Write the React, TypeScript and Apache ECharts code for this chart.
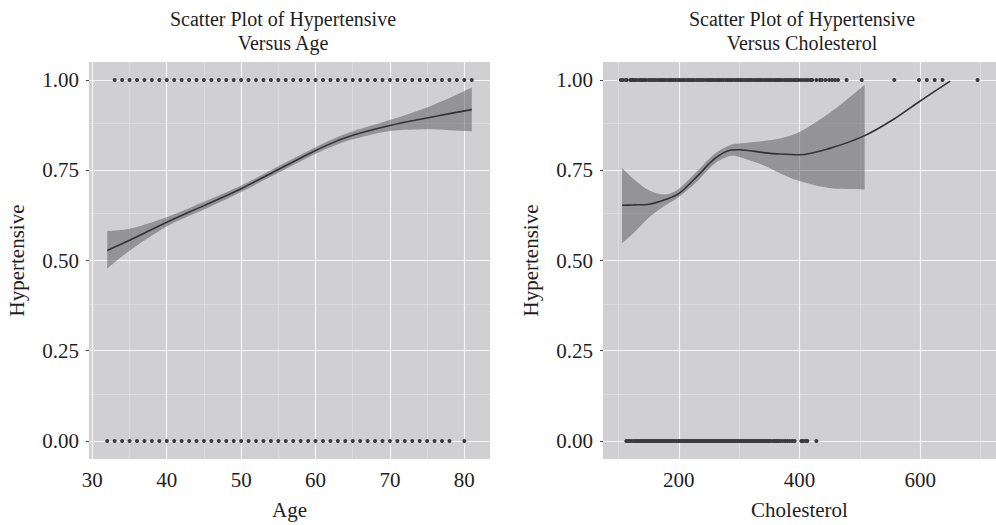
import { useEffect, useRef } from 'react';
import * as echarts from 'echarts';

// ---------- axis ticks ----------
const ageTicks = [30, 40, 50, 60, 70, 80];
const ageMinor = [35, 45, 55, 65, 75];
const cholTicks = [200, 400, 600];
const cholMinor = [100, 300, 500, 700];
const probTicks = [0, 0.25, 0.5, 0.75, 1];
const probMinor = [0.125, 0.375, 0.625, 0.875];

// ---------- left panel: Hypertensive vs Age ----------
const ageHyper = [33, 34, 35, 36, 37, 38, 39, 40, 41, 42, 43, 44, 45, 46, 47, 48, 49, 50, 51, 52, 53, 54, 55, 56, 57, 58, 59, 60, 61, 62, 63, 64, 65, 66, 67, 68, 69, 70, 71, 72, 73, 74, 75, 76, 77, 78, 79, 80, 81];
const ageNormo = [32, 33, 34, 35, 36, 37, 38, 39, 40, 41, 42, 43, 44, 45, 46, 47, 48, 49, 50, 51, 52, 53, 54, 55, 56, 57, 58, 59, 60, 61, 62, 63, 64, 65, 66, 67, 68, 69, 70, 71, 72, 73, 74, 75, 76, 77, 78, 80];
const ageFitX = [32, 35, 40, 45, 50, 55, 58, 60, 62.5, 65, 70, 75, 78, 81];
const ageFit = [0.528, 0.556, 0.606, 0.652, 0.699, 0.752, 0.784, 0.805, 0.828, 0.847, 0.874, 0.895, 0.907, 0.918];
const ageLower = [0.478, 0.527, 0.594, 0.641, 0.690, 0.743, 0.775, 0.796, 0.818, 0.836, 0.859, 0.864, 0.861, 0.858];
const ageUpper = [0.581, 0.588, 0.620, 0.663, 0.708, 0.761, 0.793, 0.814, 0.838, 0.858, 0.889, 0.924, 0.950, 0.979];

// ---------- right panel: Hypertensive vs Cholesterol ----------
const cholHyper = [104, 107, 112, 114, 120, 122,
  124, 127, 130, 134, 137, 140, 143, 146, 150, 153, 156, 159, 162, 166, 169, 172, 175, 178, 182, 185, 188, 191, 194, 198,
  201, 204, 207, 210, 214, 217, 220, 223, 226, 230, 233, 236, 239, 242, 246, 249, 252, 255, 258, 262, 265, 268, 271, 274,
  278, 281, 284, 287, 290, 294, 297, 300, 303, 306, 310, 313, 316, 319, 322, 326, 329, 332, 335, 338, 342, 345, 348, 351,
  354, 358, 361, 364, 367, 370, 374, 377, 380, 383, 386, 390, 393, 396, 398,
  402, 406, 410, 414, 418, 421, 428, 434, 437, 443, 449, 454, 459, 464, 478, 503, 557, 598, 611, 624, 637, 695];
const cholNormo = [113, 116, 119, 123, 127, 130,
  133, 136, 139, 142, 145, 148, 151, 154, 157, 160, 163, 166, 169, 172, 175, 178, 181, 184, 187, 190, 193, 196, 199,
  202, 205, 208, 211, 214, 217, 220, 223, 226, 229, 232, 235, 238, 241, 244, 247, 250, 253, 256, 259, 262, 265, 268,
  271, 274, 277, 280, 283, 286, 289, 292, 295, 298, 301, 304, 307, 310, 313, 316, 319, 322, 325, 328, 331, 334, 337,
  340, 343, 346, 349, 352, 356, 359, 362, 365, 368, 372, 376, 380, 384, 388, 392, 403, 406, 410, 413, 428];
const cholFitX = [106, 124, 151, 178, 200, 232, 259.5, 286.5, 300, 340.5, 367.6, 400, 448.6, 508, 556.7, 600, 649.7];
const cholFit = [0.653, 0.654, 0.656, 0.669, 0.685, 0.736, 0.782, 0.806, 0.807, 0.799, 0.795, 0.793, 0.810, 0.846, 0.892, 0.942, 0.997];
const cholBandX = [106, 124, 151, 178, 200, 232, 259.5, 286.5, 300, 340.5, 367.6, 400, 448.6, 508];
const cholUpper = [0.757, 0.727, 0.694, 0.683, 0.699, 0.750, 0.796, 0.821, 0.824, 0.831, 0.838, 0.856, 0.907, 0.986];
const cholLower = [0.548, 0.574, 0.620, 0.653, 0.676, 0.722, 0.769, 0.790, 0.787, 0.764, 0.742, 0.720, 0.701, 0.697];

const FONT = 'Liberation Serif';
const TXT = '#1e1e1e';
const PANEL = '#d0d0d2';
const POINT = '#3b3b3b';
const FS = 21;

const majorLine = { color: '#f6f6f7', width: 1.2, type: 'solid' as const };
const minorLine = { color: '#e2e2e4', width: 0.6, type: 'solid' as const };

function gridSeries(idx: number, xMajor: number[], xMinor: number[]) {
  const data: any[] = [];
  xMinor.forEach((v) => data.push({ xAxis: v, lineStyle: minorLine }));
  probMinor.forEach((v) => data.push({ yAxis: v, lineStyle: minorLine }));
  xMajor.forEach((v) => data.push({ xAxis: v, lineStyle: majorLine }));
  probTicks.forEach((v) => data.push({ yAxis: v, lineStyle: majorLine }));
  return {
    type: 'line',
    xAxisIndex: idx,
    yAxisIndex: idx,
    data: [],
    z: 1,
    silent: true,
    markLine: {
      silent: true,
      z: 1,
      symbol: 'none',
      label: { show: false },
      emphasis: { disabled: true },
      animation: false,
      data,
    },
  };
}

// confidence band drawn as one polygon through the axis scales
function bandSeries(idx: number, xs: number[], lo: number[], hi: number[]) {
  return {
    type: 'custom',
    xAxisIndex: idx,
    yAxisIndex: idx,
    z: 2,
    silent: true,
    data: xs.map((x, i) => [x, lo[i], hi[i]]),
    encode: { x: 0, y: [1, 2] },
    renderItem: (params: any, api: any) => {
      if (params.dataIndex !== 0) return null;
      const top = xs.map((x, i) => api.coord([x, hi[i]]));
      const bottom = xs.map((x, i) => api.coord([x, lo[i]])).reverse();
      const n = top.length;
      // duplicate the corner points so the vertical ends stay straight
      const pts = [top[0], ...top, top[n - 1], bottom[0], ...bottom, bottom[n - 1]];
      return {
        type: 'polygon',
        shape: { points: pts, smooth: 0.3 },
        style: { fill: 'rgba(88,88,90,0.5)', stroke: 'none' },
      };
    },
  };
}

function scatter(idx: number, xs: number[], y: number) {
  return {
    type: 'scatter',
    xAxisIndex: idx,
    yAxisIndex: idx,
    symbolSize: 4,
    itemStyle: { color: POINT, opacity: 1 },
    data: xs.map((x) => [x, y]),
    z: 3,
    silent: true,
  };
}

function fitLine(idx: number, xs: number[], ys: number[]) {
  return {
    type: 'line',
    xAxisIndex: idx,
    yAxisIndex: idx,
    smooth: 0.3,
    symbol: 'none',
    lineStyle: { color: '#333335', width: 1.6 },
    data: xs.map((x, i) => [x, ys[i]]),
    z: 4,
    silent: true,
  };
}

const labelStyle = { fontFamily: FONT, fontSize: FS, color: TXT };

function xAxis(idx: number, min: number, max: number, ticks: number[], name: string) {
  return {
    type: 'value',
    gridIndex: idx,
    min,
    max,
    name,
    nameLocation: 'middle',
    nameGap: 40,
    nameTextStyle: { fontFamily: FONT, fontSize: FS, color: TXT },
    axisLine: { show: false },
    axisTick: { show: true, length: 3, lineStyle: { color: '#444' }, customValues: ticks },
    axisLabel: { ...labelStyle, margin: 10, customValues: ticks, formatter: (v: number) => String(v) },
    splitLine: { show: false },
  };
}

function yAxis(idx: number, nameGap: number) {
  return {
    type: 'value',
    gridIndex: idx,
    min: -0.05,
    max: 1.05,
    name: 'Hypertensive',
    nameLocation: 'middle',
    nameGap,
    nameTextStyle: { fontFamily: FONT, fontSize: FS, color: TXT },
    axisLine: { show: false },
    axisTick: { show: true, length: 3, lineStyle: { color: '#444' }, customValues: probTicks },
    axisLabel: { ...labelStyle, margin: 10, customValues: probTicks, formatter: (v: number) => v.toFixed(2) },
    splitLine: { show: false },
  };
}

export default function App() {
  const ref = useRef<HTMLDivElement>(null);
  useEffect(() => {
    document.body.style.margin = '0';
    if (!ref.current) return;
    const chart = echarts.init(ref.current, undefined, { renderer: 'svg' });
    chart.setOption({
      animation: false,
      backgroundColor: '#ffffff',
      grid: [
        { left: 89, top: 62, width: 401, height: 397, show: true, backgroundColor: PANEL, borderWidth: 0 },
        { left: 603, top: 62, width: 403, height: 397, show: true, backgroundColor: PANEL, borderWidth: 0 },
      ],
      xAxis: [
        xAxis(0, 29.55, 83.45, ageTicks, 'Age'),
        xAxis(1, 74.4, 725.6, cholTicks, 'Cholesterol'),
      ],
      yAxis: [yAxis(0, 62), yAxis(1, 62)],
      graphic: [
        {
          type: 'text',
          x: 283,
          y: 7,
          style: {
            text: 'Scatter Plot of Hypertensive\nVersus Age',
            fontFamily: FONT,
            fontSize: 20,
            lineHeight: 24,
            fill: TXT,
            align: 'center',
          },
        },
        {
          type: 'text',
          x: 802,
          y: 7,
          style: {
            text: 'Scatter Plot of Hypertensive\nVersus Cholesterol',
            fontFamily: FONT,
            fontSize: 20,
            lineHeight: 24,
            fill: TXT,
            align: 'center',
          },
        },
      ],
      series: [
        gridSeries(0, ageTicks, ageMinor),
        gridSeries(1, cholTicks, cholMinor),
        bandSeries(0, ageFitX, ageLower, ageUpper),
        bandSeries(1, cholBandX, cholLower, cholUpper),
        scatter(0, ageHyper, 1),
        scatter(0, ageNormo, 0),
        scatter(1, cholHyper, 1),
        scatter(1, cholNormo, 0),
        fitLine(0, ageFitX, ageFit),
        fitLine(1, cholFitX, cholFit),
      ],
    });
    return () => chart.dispose();
  }, []);
  return <div ref={ref} style={{ width: 996, height: 525 }} />;
}
